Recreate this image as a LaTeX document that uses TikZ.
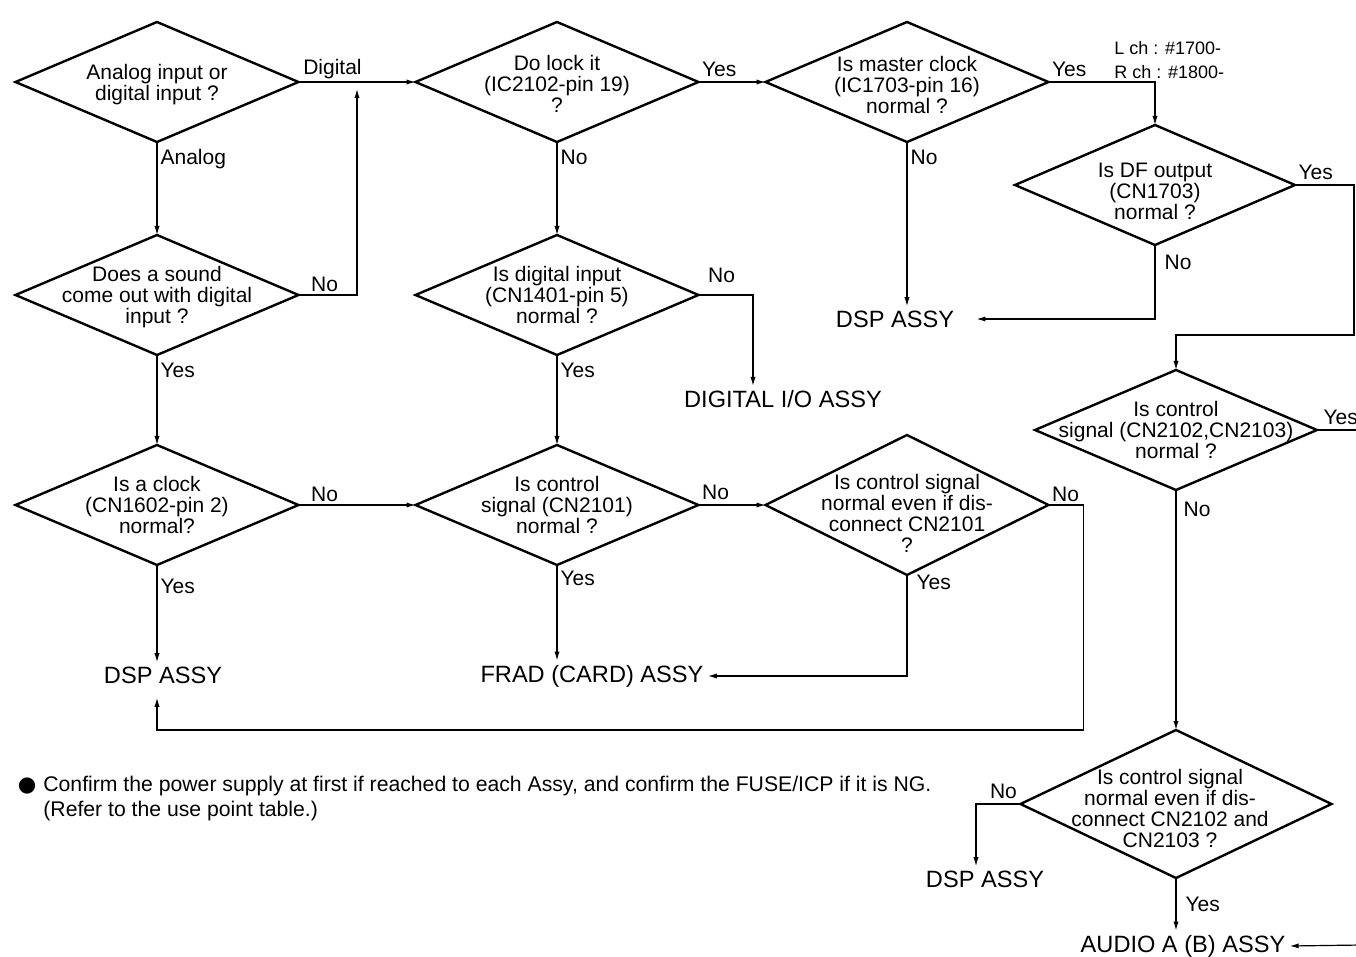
\documentclass[tikz,border=0pt]{standalone}
\usepackage{fontspec}
\setmainfont{Liberation Sans}
\newfontfamily\symfont{DejaVu Sans}
\usetikzlibrary{shapes.geometric, arrows.meta, positioning, calc}

\begin{document}
\begin{tikzpicture}[x=0.5pt, y=-0.5pt,
  dec/.style={diamond, draw, line width=1.2pt, inner sep=0pt, outer sep=0pt,
              minimum width=141.5pt, minimum height=60pt},
  qtxt/.style={font=\fontsize{10.5}{10.5}\selectfont, align=center, inner sep=0pt},
  assy/.style={font=\fontsize{11.8}{12}\selectfont, inner sep=2pt},
  lbl/.style={font=\fontsize{10.5}{10.5}\selectfont, inner sep=1.5pt},
  note/.style={font=\fontsize{10.6}{12.5}\selectfont, inner sep=0pt, align=left},
  arr/.style={-{Latex[length=4.5pt,width=2.6pt]}, line width=0.6pt},
  ln/.style={line width=0.6pt},
]
\useasboundingbox (0,0) rectangle (1356,957);

% --- Decisions, left column ---
\node[dec, label={[qtxt, yshift=-1.5pt]center:{Analog input or\\digital input ?}}] (d1) at (157,82) {};
\node[dec, label={[qtxt, yshift=-1pt]center:{Does a sound\\come out with digital\\input ?}}] (d1b) at (157,295) {};
\node[dec, label={[qtxt]center:{Is a clock\\(CN1602-pin 2)\\normal?}}] (d1c) at (157,505) {};

% --- Decisions, middle column ---
\node[dec, label={[qtxt, yshift=-1pt]center:{Do lock it\\(IC2102-pin 19)\\?}}] (d2) at (557,82) {};
\node[dec, label={[qtxt]center:{Is digital input\\(CN1401-pin 5)\\normal ?}}] (d2b) at (557,295) {};
\node[dec, label={[qtxt]center:{Is control\\signal (CN2101)\\normal ?}}] (d2c) at (557,505) {};

% --- Decisions, right side ---
\node[dec, label={[qtxt, yshift=-1.5pt]center:{Is master clock\\(IC1703-pin 16)\\normal ?}}] (d3) at (907,82) {};
\node[dec, minimum height=70pt,
      label={[qtxt, yshift=-4pt]center:{Is control signal\\normal even if dis-\\connect CN2101\\?}}] (d3c) at (907,505) {};
\node[dec, minimum width=140pt,
      label={[qtxt, yshift=-3pt]center:{Is DF output\\(CN1703)\\normal ?}}] (d4) at (1155,185) {};
\node[dec, minimum width=141pt,
      label={[qtxt]center:{Is control\\signal (CN2102,CN2103)\\normal ?}}] (d5) at (1176,430) {};
\node[dec, minimum width=155.5pt, minimum height=74pt,
      label={[qtxt, yshift=-2pt, xshift=-3pt]center:{Is control signal\\normal even if dis-\\connect CN2102 and\\CN2103 ?}}] (d6) at (1176,804) {};

% --- Results ---
\node[assy] (dspA) at (163,675) {DSP ASSY};
\node[assy] (frad) at (592,676) {FRAD (CARD) ASSY};
\node[assy] (dio) at (783,399) {DIGITAL I/O ASSY};
\node[assy] (dspB) at (895,319) {DSP ASSY};
\node[assy] (dspC) at (985,879) {DSP ASSY};
\node[assy] (audio) at (1183,946) {AUDIO A (B) ASSY};

\coordinate (j1) at (357,89);
\coordinate (j2) at (157,730);
\coordinate (j3) at (1176,335);
\coordinate (e1) at (1362,430);
\coordinate (e2) at (1362,945);

% --- Left column flow ---
\draw[arr] (d1.east) -- node[lbl, above, pos=0.29]{Digital} (d2.west);
\draw[arr] (d1.south) node[lbl, below right, yshift=-2pt]{Analog} -- (d1b.north);
\draw[arr] (d1b.east) node[lbl, above right, xshift=4.5pt]{No} -| (j1);
\draw[arr] (d1b.south) node[lbl, below right, yshift=-2pt]{Yes} -- (d1c.north);
\draw[arr] (d1c.east) node[lbl, above right, xshift=4.5pt]{No} -- (d2c.west);
\draw[arr] (d1c.south) node[lbl, below right, yshift=-5pt]{Yes} -- (d1c.south |- dspA.north);

% --- Middle column flow ---
\draw[arr] (d2.east) node[lbl, above right, yshift=1pt]{Yes} -- (d3.west);
\draw[arr] (d2.south) node[lbl, below right, yshift=-2pt]{No} -- (d2b.north);
\draw[arr] (d2b.east) node[lbl, above right, xshift=3pt, yshift=4.5pt]{No} -| ([xshift=-15pt]dio.north);
\draw[arr] (d2b.south) node[lbl, below right, yshift=-2pt]{Yes} -- (d2c.north);
\draw[arr] (d2c.east) node[lbl, above right, yshift=1pt]{No} -- (d3c.west);
\draw[arr] (d2c.south) node[lbl, below right, yshift=-1pt]{Yes} -- (d2c.south |- frad.north);

% --- Right side flow ---
\draw[arr] (d3.east) node[lbl, above right, yshift=1pt]{Yes} -| (d4.north);
\draw[arr] (d3.south) node[lbl, below right, yshift=-2pt]{No} -- (d3.south |- dspB.north);
\draw[arr] (d4.south) node[lbl, below right, xshift=3pt, yshift=-3pt]{No} |- ([xshift=9pt]dspB.east);
\draw[arr] (d4.east) node[lbl, above right, yshift=1pt]{Yes} -- ++(59,0) |- (j3) -- (d5.north);
\draw[ln] (d5.east) node[lbl, above right, xshift=1.5pt, yshift=1pt]{Yes} -- (e1);
\draw[arr] (d5.south) node[lbl, below right, xshift=2pt, yshift=-4pt]{No} -- (d6.north);
\draw[arr] (d3c.south) node[lbl, below right, xshift=3pt, yshift=2pt]{Yes} |- (frad.east);
\draw[arr, shorten >=5pt] (d3c.east) node[lbl, above right]{No} -- ++(35,0) |- (j2) -- (d1c.south |- dspA.south);
\draw[arr] (d6.west) node[lbl, above left, yshift=1pt]{No} -| ([xshift=-4.5pt]dspC.north);
\draw[arr] (d6.south) -- node[lbl, right, xshift=3pt]{Yes} (d6.south |- audio.north);
\draw[arr] (e2) -- (audio.east);

% --- Notes ---
\node[note, anchor=north west] (fn) at (43,776)
  {Confirm the power supply at first if reached to each Assy, and confirm the FUSE/ICP if it is NG.\\(Refer to the use point table.)};
\node[note, anchor=base] (bul) at (27,791) {\symfont ●};
\node[note, font=\fontsize{9}{12}\selectfont, anchor=north west] (ch) at (1114,41) {L ch : \#1700-\\R ch : \#1800-};
\end{tikzpicture}
\end{document}
